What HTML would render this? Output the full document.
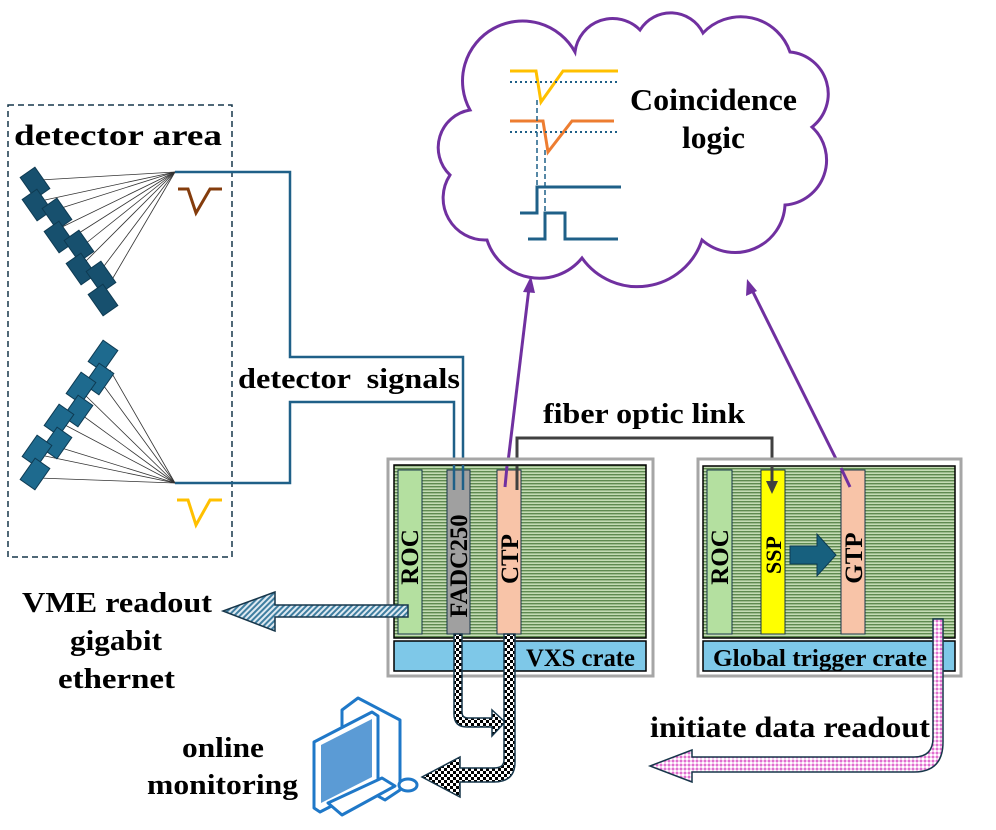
<!DOCTYPE html>
<html><head><meta charset="utf-8"><style>
body{margin:0;background:#fff}
svg{display:block}
text{font-family:"Liberation Serif",serif;font-weight:bold;fill:#000}
</style></head><body>
<svg width="996" height="830" viewBox="0 0 996 830" xmlns="http://www.w3.org/2000/svg">
<defs>
<pattern id="grn" width="4" height="3" patternUnits="userSpaceOnUse"><rect width="4" height="3" fill="#c4dcb4"/><rect y="0" width="4" height="1.4" fill="#5f8a50"/></pattern>
<pattern id="hatch" width="4" height="4" patternUnits="userSpaceOnUse" patternTransform="rotate(45)"><rect width="4" height="4" fill="#dfeaf2"/><rect width="2" height="4" fill="#3f7ea0"/></pattern>
<pattern id="chk" width="6" height="6" patternUnits="userSpaceOnUse"><rect width="6" height="6" fill="#fff"/><rect width="3" height="3" fill="#000"/><rect x="3" y="3" width="3" height="3" fill="#000"/></pattern>
<pattern id="pink" width="4" height="4" patternUnits="userSpaceOnUse"><rect width="4" height="4" fill="#f6c8ee"/><rect width="2" height="2" fill="#e070d0"/><rect x="2" y="2" width="2" height="2" fill="#fff"/></pattern>
</defs>

<!-- detector area -->
<rect x="8" y="105" width="224" height="452" fill="none" stroke="#17364a" stroke-width="1.5" stroke-dasharray="6,4"/>
<text x="14" y="145" font-size="30" textLength="208" lengthAdjust="spacingAndGlyphs">detector area</text>

<g stroke="#333" stroke-width="0.8">
<line x1="175" y1="172" x2="40" y2="180"/><line x1="175" y1="172" x2="45" y2="200"/><line x1="175" y1="172" x2="55" y2="210"/><line x1="175" y1="172" x2="60" y2="228"/><line x1="175" y1="172" x2="68" y2="240"/><line x1="175" y1="172" x2="75" y2="252"/><line x1="175" y1="172" x2="85" y2="262"/><line x1="175" y1="172" x2="95" y2="278"/><line x1="175" y1="172" x2="110" y2="283"/>
<line x1="175" y1="483" x2="38" y2="478"/><line x1="175" y1="483" x2="45" y2="456"/><line x1="175" y1="483" x2="55" y2="446"/><line x1="175" y1="483" x2="65" y2="425"/><line x1="175" y1="483" x2="75" y2="410"/><line x1="175" y1="483" x2="85" y2="395"/><line x1="175" y1="483" x2="98" y2="378"/><line x1="175" y1="483" x2="110" y2="370"/>
</g>
<g fill="#17506e" stroke="#0e3a52" stroke-width="1">
<rect x="-9" y="-13" width="18" height="26" transform="translate(35,183) rotate(-35)"/>
<rect x="-9" y="-13" width="18" height="26" transform="translate(37,205) rotate(-35)"/>
<rect x="-9" y="-13" width="18" height="26" transform="translate(57,214) rotate(-35)"/>
<rect x="-9" y="-13" width="18" height="26" transform="translate(59,237) rotate(-35)"/>
<rect x="-9" y="-13" width="18" height="26" transform="translate(79,246) rotate(-35)"/>
<rect x="-9" y="-13" width="18" height="26" transform="translate(81,269) rotate(-35)"/>
<rect x="-9" y="-13" width="18" height="26" transform="translate(101,277) rotate(-35)"/>
<rect x="-9" y="-13" width="18" height="26" transform="translate(103,300) rotate(-35)"/>
</g>
<g fill="#1e6a8e" stroke="#0e3a52" stroke-width="1">
<rect x="-9" y="-13" width="18" height="26" transform="translate(103,356) rotate(35)"/>
<rect x="-9" y="-13" width="18" height="26" transform="translate(99,379) rotate(35)"/>
<rect x="-9" y="-13" width="18" height="26" transform="translate(81,388) rotate(35)"/>
<rect x="-9" y="-13" width="18" height="26" transform="translate(78,411) rotate(35)"/>
<rect x="-9" y="-13" width="18" height="26" transform="translate(59,420) rotate(35)"/>
<rect x="-9" y="-13" width="18" height="26" transform="translate(57,443) rotate(35)"/>
<rect x="-9" y="-13" width="18" height="26" transform="translate(37,451) rotate(35)"/>
<rect x="-9" y="-13" width="18" height="26" transform="translate(35,474) rotate(35)"/>
</g>
<path d="M178,189 H188 L196,213 L210,189 H222" fill="none" stroke="#843c0c" stroke-width="3"/>
<path d="M177,500 H188 L196,525 L210,500 H222" fill="none" stroke="#ffc000" stroke-width="3"/>

<path d="M175,172 H290 V357 H463 V490" fill="none" stroke="#1f6088" stroke-width="2.5"/>
<path d="M175,483 H290 V402 H454 V490" fill="none" stroke="#1f6088" stroke-width="2.5"/>
<text x="238" y="388" font-size="29" textLength="222" lengthAdjust="spacingAndGlyphs" xml:space="preserve">detector  signals</text>

<!-- cloud -->
<path d="M470,110 A55,55 0 0 1 575,52 A38,38 0 0 1 640,30 A36,36 0 0 1 703,33 A52,52 0 0 1 790,52 A42,42 0 0 1 812,127 A45,45 0 0 1 785,205 A50,50 0 0 1 702,240 A68,68 0 0 1 582,258 A55,55 0 0 1 487,240 A42,42 0 0 1 450,175 A38,38 0 0 1 470,110 Z" fill="#fff" stroke="#7030a0" stroke-width="3"/>
<text x="630" y="110" font-size="31" textLength="167" lengthAdjust="spacingAndGlyphs">Coincidence</text>
<text x="682" y="148" font-size="31" textLength="63" lengthAdjust="spacingAndGlyphs">logic</text>
<path d="M510,71 H536 L541,102 L563,71 H618" fill="none" stroke="#ffc000" stroke-width="3"/>
<path d="M510,82 H618" stroke="#1f6088" stroke-width="2" stroke-dasharray="2,3"/>
<path d="M510,121 H543 L548,152 L572,121 H614" fill="none" stroke="#ed7d31" stroke-width="3"/>
<path d="M510,132 H618" stroke="#1f6088" stroke-width="2" stroke-dasharray="2,3"/>
<path d="M537,100 V188 M545,150 V215" stroke="#1f6088" stroke-width="1.5" stroke-dasharray="5,3"/>
<path d="M520,213 H537 V187 H621" fill="none" stroke="#1f6088" stroke-width="3"/>
<path d="M528,239 H545 V213 H565 V239 H618" fill="none" stroke="#1f6088" stroke-width="3"/>

<!-- purple arrows -->
<line x1="505" y1="487" x2="529" y2="288" stroke="#7030a0" stroke-width="3"/>
<line x1="850" y1="487" x2="752" y2="290" stroke="#7030a0" stroke-width="3"/>
<polygon points="531,276 523,292 535,293" fill="#7030a0"/>
<polygon points="747,279 746,296 757,291" fill="#7030a0"/>

<!-- fiber optic -->
<text x="543" y="423" font-size="28" textLength="202" lengthAdjust="spacingAndGlyphs">fiber optic link</text>
<path d="M517,490 V438 H772 V484" fill="none" stroke="#404040" stroke-width="3"/>

<!-- VXS crate -->
<rect x="388" y="459" width="265" height="217" fill="#fff" stroke="#a6a6a6" stroke-width="3"/>
<rect x="394" y="465" width="252" height="173" fill="url(#grn)" stroke="#000" stroke-width="1.5"/>
<rect x="394" y="641" width="252" height="30" fill="#7ec8e8" stroke="#000" stroke-width="1.5"/>
<text x="526" y="666" font-size="25" textLength="109" lengthAdjust="spacingAndGlyphs">VXS crate</text>
<rect x="398" y="470" width="24" height="164" fill="#b4e0a0" stroke="#17364a"/>
<rect x="447" y="470" width="23" height="164" fill="#a0a0a0" stroke="#17364a"/>
<rect x="497" y="470" width="24" height="164" fill="#f8c4a8" stroke="#17364a"/>
<text transform="translate(418,557) rotate(-90)" font-size="25" text-anchor="middle">ROC</text>
<text transform="translate(467,566) rotate(-90)" font-size="25" text-anchor="middle" textLength="103" lengthAdjust="spacingAndGlyphs">FADC250</text>
<text transform="translate(518,559) rotate(-90)" font-size="25" text-anchor="middle">CTP</text>

<!-- Global crate -->
<rect x="698" y="459" width="263" height="217" fill="#fff" stroke="#a6a6a6" stroke-width="3"/>
<rect x="703" y="466" width="252" height="172" fill="url(#grn)" stroke="#000" stroke-width="1.5"/>
<rect x="703" y="641" width="252" height="30" fill="#7ec8e8" stroke="#000" stroke-width="1.5"/>
<text x="713" y="666" font-size="24" textLength="214" lengthAdjust="spacingAndGlyphs">Global trigger crate</text>
<rect x="707" y="470" width="25" height="164" fill="#b4e0a0" stroke="#17364a"/>
<rect x="761" y="470" width="24" height="164" fill="#ffff00" stroke="#17364a"/>
<rect x="841" y="470" width="24" height="164" fill="#f8c4a8" stroke="#17364a"/>
<text transform="translate(728,557) rotate(-90)" font-size="25" text-anchor="middle">ROC</text>
<text transform="translate(781,555) rotate(-90)" font-size="22" text-anchor="middle">SSP</text>
<text transform="translate(862,558) rotate(-90)" font-size="25" text-anchor="middle">GTP</text>
<polygon points="790,546 817,546 817,534 836,555 817,576 817,564 790,564" fill="#17607e" stroke="#0e3a52"/>

<!-- connector ends on top of crate -->
<path d="M454,465 V490 M463,465 V490" stroke="#1f6088" stroke-width="2.5"/>
<line x1="507" y1="466" x2="505" y2="487" stroke="#7030a0" stroke-width="3"/>
<line x1="517" y1="466" x2="517" y2="490" stroke="#404040" stroke-width="3"/>
<line x1="772" y1="466" x2="772" y2="484" stroke="#404040" stroke-width="3"/>
<polygon points="766,481 778,481 772,494" fill="#404040"/>
<line x1="841" y1="468" x2="850" y2="487" stroke="#7030a0" stroke-width="3"/>

<!-- VME readout arrow -->
<polygon points="408,605 275,605 275,592 223,611 275,631 275,617 408,617" fill="url(#hatch)" stroke="#17364a" stroke-width="1.5"/>
<text x="22" y="612" font-size="29" textLength="190" lengthAdjust="spacingAndGlyphs">VME readout</text>
<text x="70" y="650" font-size="29" textLength="92" lengthAdjust="spacingAndGlyphs">gigabit</text>
<text x="58" y="688" font-size="29" textLength="117" lengthAdjust="spacingAndGlyphs">ethernet</text>

<!-- checkered arrows -->
<path d="M454,634 V714 Q454,727 467,727 H492 V736 L505,722 L492,710 V718 H468 Q462,718 462,712 V634 Z" fill="url(#chk)" stroke="#17364a" stroke-width="1.5"/>
<path d="M504,634 V760 Q504,768 494,768 H460 V757 L422,777 L460,797 V782 H494 Q515,782 515,762 V634 Z" fill="url(#chk)" stroke="#17364a" stroke-width="1.5"/>

<!-- pink arrow -->
<path d="M933,619 V738 Q933,757 914,757 H692 V750 L650,766 L692,782 V772 H914 Q943,772 943,742 V619 Z" fill="url(#pink)" stroke="#17364a" stroke-width="1.5"/>
<text x="650" y="737" font-size="30" textLength="280" lengthAdjust="spacingAndGlyphs">initiate data readout</text>

<!-- computer -->
<g stroke="#1f78c8" stroke-width="3" fill="#fff" stroke-linejoin="round">
<polygon points="342,710 358,698 400,720 400,790 385,800 342,776"/>
<polygon points="314,742 372,712 378,716 378,782 320,812 314,808"/>
<polygon points="328,803 382,778 395,786 342,815"/>
<ellipse cx="408" cy="785" rx="9" ry="6"/>
</g>
<polygon points="321,745 372,719 372,777 321,803" fill="#5b9bd5"/>
<text x="182" y="757" font-size="29" textLength="82" lengthAdjust="spacingAndGlyphs">online</text>
<text x="147" y="794" font-size="29" textLength="151" lengthAdjust="spacingAndGlyphs">monitoring</text>
</svg>
</body></html>
